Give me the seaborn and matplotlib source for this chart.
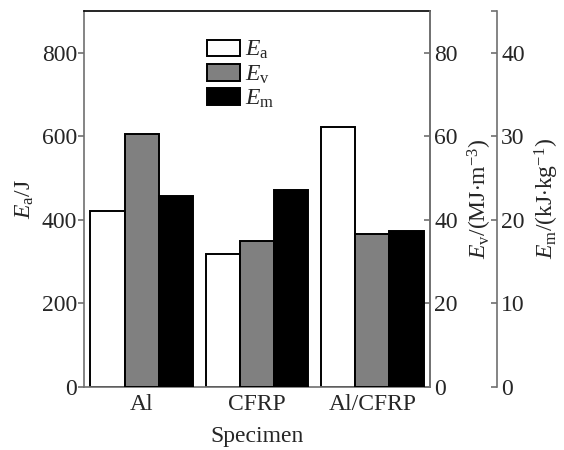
import numpy as np
import pandas as pd
import seaborn as sns
import matplotlib.pyplot as plt

# values
specimens = ["Al", "CFRP", "Al/CFRP"]
Ea = [422, 318, 622]        # J
Ev = [60.6, 35.0, 36.6]     # MJ/m3
Em = [22.8, 23.6, 18.7]     # kJ/kg

series = ["Ea", "Ev", "Em"]
colors = {"Ea": "white", "Ev": "#808080", "Em": "black"}
labels = {"Ea": r"$E_\mathrm{a}$", "Ev": r"$E_\mathrm{v}$", "Em": r"$E_\mathrm{m}$"}

data = pd.DataFrame({
    "Specimen": specimens * 3,
    "Series": ["Ea"] * 3 + ["Ev"] * 3 + ["Em"] * 3,
    "Value": Ea + Ev + Em,
})

sns.set_style("ticks")
plt.rcParams["font.family"] = ["Liberation Serif", "DejaVu Serif"]
plt.rcParams["mathtext.fontset"] = "custom"
plt.rcParams["mathtext.rm"] = "Liberation Serif"
plt.rcParams["mathtext.it"] = "Liberation Serif:italic"
fs = 17
spine_c = "#707070"

fig = plt.figure(figsize=(5.64, 4.5), dpi=100)
ax = fig.add_axes([84 / 564, 63 / 450, 346 / 564, 376 / 450])
ax2 = ax.twinx()
ax3 = ax.twinx()
axes = {"Ea": ax, "Ev": ax2, "Em": ax3}

# each series on its own scale; other series blanked so dodge slots stay
for s in series:
    d = data.copy()
    d.loc[d["Series"] != s, "Value"] = np.nan
    sns.barplot(data=d, x="Specimen", y="Value",
                hue="Series", hue_order=series, palette=colors, order=specimens,
                width=0.89, saturation=1, edgecolor="black", linewidth=1.4,
                errorbar=None, legend=False, ax=axes[s])

ax.set_ylim(0, 900)
ax2.set_ylim(0, 90)
ax3.set_ylim(0, 45)
ax.set_xlim(-0.5, 2.5)
ax.set_yticks([0, 200, 400, 600, 800])
ax2.set_yticks([0, 20, 40, 60, 80])
ax3.set_yticks([0, 10, 20, 30, 40, 45], ["0", "10", "20", "30", "40", ""])

ax3.spines["right"].set_position(("axes", 1 + 67 / 346))

for a in (ax, ax2, ax3):
    for sp in a.spines.values():
        sp.set_color(spine_c)
        sp.set_linewidth(1.2)
    a.set_xlabel("")
    a.set_ylabel("")
ax.spines["top"].set_color("black")
for a in (ax2, ax3):
    a.spines["left"].set_visible(False)
    a.spines["top"].set_visible(False)
    a.spines["bottom"].set_visible(False)

ax.tick_params(axis="y", direction="out", length=4, width=1.2, color=spine_c,
               labelsize=fs, pad=1)
ax.tick_params(axis="x", length=0, labelsize=fs, pad=5)
ax2.tick_params(axis="y", direction="in", length=4, width=1.2, color=spine_c,
                labelsize=fs, pad=3)
ax3.tick_params(axis="y", direction="in", length=4, width=1.2, color=spine_c,
                labelsize=fs, pad=3)
ax2.tick_params(axis="x", length=0, labelbottom=False)
ax3.tick_params(axis="x", length=0, labelbottom=False)

ax.set_xlabel("Specimen", fontsize=fs, labelpad=8)
ax.set_ylabel(r"$E_\mathrm{a}$/J", fontsize=fs, labelpad=4)
ax2.set_ylabel(r"$E_\mathrm{v}$/(MJ$\cdot$m$^{-3}$)", fontsize=fs, labelpad=6)
ax3.set_ylabel(r"$E_\mathrm{m}$/(kJ$\cdot$kg$^{-1}$)", fontsize=fs, labelpad=6)

handles = [plt.Rectangle((0, 0), 1, 1, facecolor=colors[s], edgecolor="black",
                         linewidth=1.4) for s in series]
ax3.legend(handles, [labels[s] for s in series], loc="upper left",
           bbox_to_anchor=(0.355, 0.925), frameon=False, fontsize=fs,
           handlelength=1.4, handleheight=0.72, handletextpad=0.2,
           labelspacing=0.08, borderpad=0, borderaxespad=0)

fig.savefig("out.png", dpi=100)
